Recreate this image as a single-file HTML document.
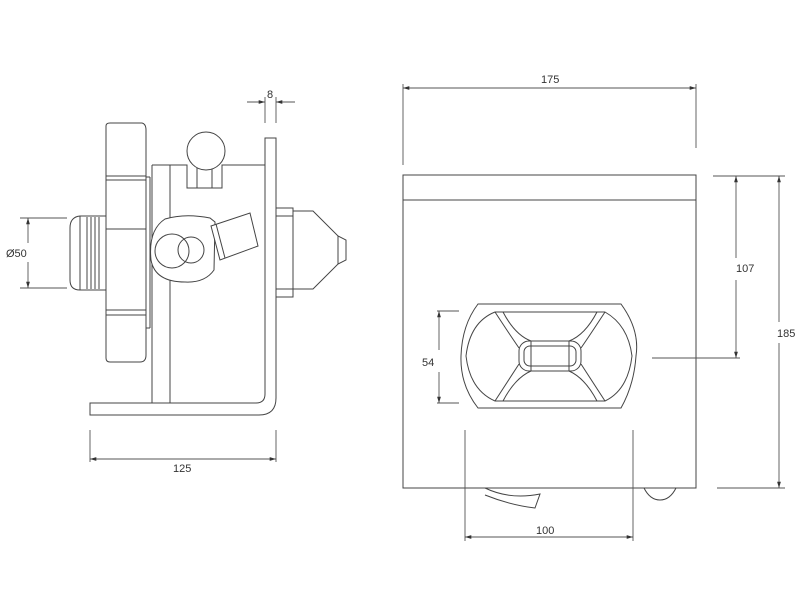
<!DOCTYPE html>
<html><head><meta charset="utf-8"><style>
html,body{margin:0;padding:0;background:#fff;}
svg{display:block}
text{font-family:"Liberation Sans",sans-serif;font-size:11px;fill:#333;}
</style></head><body>
<svg width="800" height="600" viewBox="0 0 800 600" xmlns="http://www.w3.org/2000/svg">
<defs>
<marker id="a" viewBox="0 0 10 10" refX="10" refY="5" markerWidth="7" markerHeight="7" orient="auto-start-reverse"><path d="M0,2 L10,5 L0,8 z" fill="#333"/></marker>
</defs>
<g fill="none" stroke="#444" stroke-width="1">
<!-- LEFT VIEW -->
<!-- flange -->
<path d="M106,126 Q106,123 110,123 L142,123 Q146,124 146,130 L146,355 Q146,362 140,362 L110,362 Q106,362 106,358 Z"/>
<line x1="106" y1="176" x2="146" y2="176"/><line x1="106" y1="180" x2="146" y2="180"/>
<line x1="106" y1="229" x2="146" y2="229"/>
<line x1="106" y1="310" x2="146" y2="310"/><line x1="106" y1="315" x2="146" y2="315"/>
<line x1="146" y1="177" x2="150" y2="177"/><line x1="150" y1="177" x2="150" y2="328"/><line x1="146" y1="328" x2="150" y2="328"/>
<!-- thread pipe -->
<path d="M106,216 L80,216 Q70,217 70,228 L70,280 Q70,290 80,290 L106,290"/>
<line x1="80" y1="216" x2="80" y2="290"/><line x1="87" y1="217" x2="87" y2="289"/><line x1="91" y1="217" x2="91" y2="289"/><line x1="95" y1="217" x2="95" y2="289"/><line x1="99" y1="217" x2="99" y2="289"/>
<!-- body -->
<line x1="152" y1="165" x2="152" y2="403"/><line x1="170" y1="165" x2="170" y2="403"/>
<path d="M152,165 L187,165 L187,188 L222,188 L222,165 L265,165"/>
<line x1="197" y1="168" x2="197" y2="188"/><line x1="212" y1="168" x2="212" y2="188"/>
<circle cx="206" cy="151" r="19" fill="#fff"/>
<!-- wall plate -->
<path d="M265,138 L276,138 L276,398 Q276,415 259,415 L90,415 L90,403 L256,403 Q265,403 265,394 Z"/>
<!-- ring -->
<path d="M165,219 Q185,213 210,218 L215,222 L214,270 Q205,283 185,282 Q155,282 151,260 Q148,230 165,219 Z" fill="#fff"/>
<circle cx="172" cy="251" r="17"/><circle cx="191" cy="250" r="13"/>
<path d="M211,226 L250,213 L258,246 L220,260 Z" fill="#fff"/>
<line x1="216" y1="224" x2="225" y2="258"/>
<!-- nozzle -->
<rect x="276" y="208" width="17" height="89"/>
<line x1="276" y1="216" x2="293" y2="216"/><line x1="276" y1="289" x2="293" y2="289"/>
<path d="M293,211 L313,211 L338,236 L346,240 L346,260 L338,264 L313,289 L293,289"/>
<line x1="338" y1="236" x2="338" y2="264"/>
<!-- dims left -->
<g stroke="#555" stroke-width="0.9">
<line x1="20" y1="218" x2="67" y2="218"/><line x1="20" y1="288" x2="67" y2="288"/>
<line x1="28" y1="218" x2="28" y2="243" marker-start="url(#a)"/><line x1="28" y1="262" x2="28" y2="288" marker-end="url(#a)"/>
<line x1="265" y1="97" x2="265" y2="123"/><line x1="276" y1="97" x2="276" y2="123"/>
<line x1="247" y1="102" x2="265" y2="102" marker-end="url(#a)"/><line x1="295" y1="102" x2="276" y2="102" marker-end="url(#a)"/>
<line x1="90" y1="430" x2="90" y2="462"/><line x1="276" y1="430" x2="276" y2="462"/>
<line x1="90" y1="459" x2="276" y2="459" marker-start="url(#a)" marker-end="url(#a)"/>
</g>
<!-- RIGHT VIEW -->
<rect x="403" y="175" width="293" height="313"/>
<line x1="403" y1="200" x2="696" y2="200"/>
<path d="M485,488 Q510,500 540,494 L535,508 Q510,505 485,495"/>
<path d="M644,488 Q650,500 660,500 Q670,500 676,488"/>
<!-- eye -->
<path d="M478,304 L621,304 Q640,330 636,356 Q634,385 621,408 L478,408 Q460,385 461,356 Q462,325 478,304 Z"/>
<path d="M495,312 L605,312 Q628,325 632,356 Q628,390 605,401 L495,401 Q470,390 466,356 Q470,322 495,312 Z"/>
<rect x="519" y="341" width="62" height="30" rx="10"/>
<rect x="524" y="346" width="52" height="20" rx="6"/>
<line x1="531" y1="341" x2="531" y2="371"/><line x1="569" y1="341" x2="569" y2="371"/>
<path d="M495,312 Q510,335 519,348"/><path d="M503,312 Q515,335 531,341"/>
<path d="M605,312 Q590,335 581,348"/><path d="M597,312 Q585,335 569,341"/>
<path d="M495,401 Q510,378 519,364"/><path d="M503,401 Q515,378 531,371"/>
<path d="M605,401 Q590,378 581,364"/><path d="M597,401 Q585,378 569,371"/>
<!-- dims right -->
<g stroke="#555" stroke-width="0.9">
<line x1="403" y1="84" x2="403" y2="165"/><line x1="696" y1="84" x2="696" y2="148"/>
<line x1="403" y1="88" x2="696" y2="88" marker-start="url(#a)" marker-end="url(#a)"/>
<line x1="713" y1="176" x2="785" y2="176"/><line x1="717" y1="488" x2="785" y2="488"/>
<line x1="652" y1="358" x2="740" y2="358"/>
<line x1="736" y1="176" x2="736" y2="258" marker-start="url(#a)"/><line x1="736" y1="280" x2="736" y2="358" marker-end="url(#a)"/>
<line x1="779" y1="176" x2="779" y2="322" marker-start="url(#a)"/><line x1="779" y1="343" x2="779" y2="488" marker-end="url(#a)"/>
<line x1="437" y1="311" x2="459" y2="311"/><line x1="437" y1="403" x2="459" y2="403"/>
<line x1="439" y1="311" x2="439" y2="350" marker-start="url(#a)"/><line x1="439" y1="372" x2="439" y2="403" marker-end="url(#a)"/>
<line x1="465" y1="430" x2="465" y2="541"/><line x1="633" y1="430" x2="633" y2="541"/>
<line x1="465" y1="537" x2="633" y2="537" marker-start="url(#a)" marker-end="url(#a)"/>
</g>
</g>
<text x="6" y="257">Ø50</text>
<text x="267" y="98">8</text>
<text x="173" y="472">125</text>
<text x="541" y="83">175</text>
<text x="736" y="272">107</text>
<text x="777" y="337">185</text>
<text x="422" y="366">54</text>
<text x="536" y="534">100</text>
</svg>
</body></html>
